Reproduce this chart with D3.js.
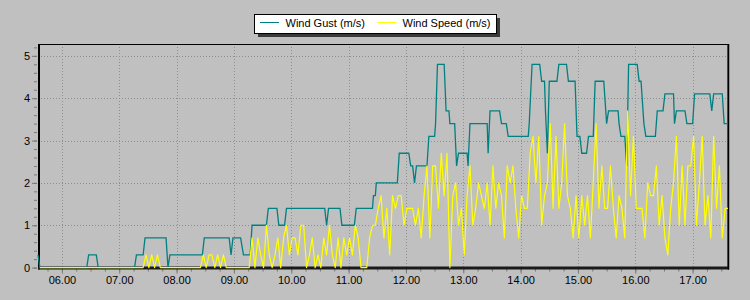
<!DOCTYPE html>
<html>
<head>
<meta charset="utf-8">
<script src="https://cdn.jsdelivr.net/npm/d3@7"></script>
<style>
body { margin: 0; background: #c0c0c0; }
text { font-family: "Liberation Sans", Arial, sans-serif; font-size: 11px; }
</style>
</head>
<body>
<div id="chart"></div>
<script>
// wind gust: corner points of the stepped line
var gustTimes = [
  "05:35","05:37","06:26","06:28","06:36","06:38","07:16","07:18","07:25","07:27",
  "07:49","07:51","07:53","08:27","08:29","08:55","08:57","08:59","09:07","09:10",
  "09:17","09:19","09:34","09:36","09:45","09:47","09:53","09:55","10:35","10:37",
  "10:39","10:51","10:53","11:06","11:08","11:25","11:26","11:28","11:29","11:51",
  "11:53","12:03","12:05","12:07","12:09","12:11","12:22","12:24","12:30","12:31",
  "12:33","12:40","12:42","12:45","12:46","12:51","12:53","12:55","13:04","13:05",
  "13:07","13:25","13:26","13:28","13:38","13:40","13:45","13:47","14:08","14:09",
  "14:12","14:20","14:22","14:25","14:26","14:28","14:30","14:38","14:40","14:48",
  "14:50","14:57","14:59","15:02","15:04","15:09","15:11","15:16","15:18","15:27",
  "15:30","15:32","15:42","15:43","15:45","15:49","15:51","15:53","16:02","16:04",
  "16:06","16:09","16:11","16:21","16:23","16:29","16:31","16:40","16:41","16:43",
  "16:52","16:54","17:00","17:02","17:18","17:20","17:22","17:31","17:33","17:37"
];
var gustValues = [
  0.3,0,0,0.3,0.3,0,0,0.3,0.3,0.7,
  0.7,0,0.3,0.3,0.7,0.7,0.3,0.7,0.7,0.3,
  0.3,1.0,1.0,1.4,1.4,1.0,1.0,1.4,1.4,1.0,
  1.4,1.4,1.0,1.0,1.4,1.4,1.7,1.7,2.0,2.0,
  2.7,2.7,2.4,2.4,2.0,2.4,2.4,3.1,3.1,3.4,
  4.8,4.8,3.7,3.7,3.4,3.4,2.4,2.7,2.7,2.4,
  3.4,3.4,2.7,3.7,3.7,3.4,3.4,3.1,3.1,3.4,
  4.8,4.8,4.4,4.4,3.7,2.7,4.4,4.4,4.8,4.8,
  4.4,4.4,3.1,3.1,2.7,2.7,3.1,3.1,4.4,4.4,
  3.4,3.7,3.7,3.4,3.1,3.1,2.4,4.8,4.8,4.4,
  4.4,3.4,3.1,3.1,3.7,3.7,4.1,4.1,3.4,3.7,
  3.7,3.4,3.4,4.1,4.1,3.7,4.1,4.1,3.4,3.4
];

// wind speed: one reading every 3 minutes from 05:37
var speedStart = "05:37";
var speedStep = 3;
var speedValues = [
  0,0,0,0,0,0,0,0,0,0,
  0,0,0,0,0,0,0,0,0,0,
  0,0,0,0,0,0,0,0,0,0,
  0,0,0,0,0,0,0,0.3,0,0.3,
  0,0.3,0,0,0,0,0,0,0,0,
  0,0,0,0,0,0,0,0.3,0,0.3,
  0.3,0,0.3,0,0.3,0,0,0,0,0,
  0,0,0,0,0.7,0,0.7,0.3,0,1.0,
  0.3,0,0.3,0.7,0,0.7,1.0,0.3,0.7,0.7,
  0.3,1.0,1.0,0,0.3,0.7,0,0.3,0,0.7,
  0.3,1.0,0.3,0,0.7,0,0.7,0.3,0.7,0.3,
  1.0,0.7,0,0,0,0.7,1.0,1.0,1.4,1.7,
  0.7,1.4,0.3,1.7,1.4,1.7,1.7,1.0,1.4,1.4,
  1.4,1.0,1.4,0.7,1.7,2.4,0.7,2.4,2.4,1.4,
  2.7,1.7,2.7,0,1.7,2.0,1.0,1.4,0.3,1.7,
  2.4,1.0,1.4,2.0,1.7,1.4,2.0,1.0,2.4,1.4,
  2.0,1.7,0.7,2.4,2.0,2.4,1.4,0.7,1.7,1.4,
  1.4,2.7,3.1,2.0,3.1,1.0,1.7,2.0,3.4,1.4,
  3.1,1.4,2.0,3.4,1.7,1.4,0.7,1.7,0.7,1.7,
  1.0,1.7,0.7,2.0,3.4,1.4,2.4,1.4,1.4,2.4,
  1.4,0.7,1.7,1.4,0.7,3.7,1.7,3.1,1.4,1.4,
  1.4,0.7,2.0,1.7,1.7,2.4,1.0,1.7,0.7,0.3,
  1.4,2.0,3.1,1.0,2.4,1.0,2.4,2.4,3.1,1.0,
  2.0,3.1,1.0,1.7,0.7,3.1,1.4,2.4,0.7,1.4,1.4
];

var timeRange = ["05:35", "17:37"];
var yMax = 5.28;
var yTicks = [0, 1, 2, 3, 4, 5];
var seriesNames = ["Wind Gust (m/s)", "Wind Speed (m/s)"];
var seriesColors = ["#008080", "#ffff00"];

var parseTime = d3.timeParse("%H:%M");

var margin = {top: 44, right: 22, bottom: 32.4, left: 38},
    width = 750 - margin.left - margin.right,
    height = 300 - margin.top - margin.bottom;

var x = d3.scaleTime()
    .domain(timeRange.map(parseTime))
    .range([0, width]);
var y = d3.scaleLinear()
    .domain([0, yMax])
    .range([height, 0]);

var gust = gustTimes.map(function(t, i) {
  return {t: parseTime(t), v: gustValues[i]};
});
var t0 = parseTime(speedStart);
var speed = speedValues.map(function(v, i) {
  return {t: d3.timeMinute.offset(t0, i * speedStep), v: v};
});

var svg = d3.select("#chart").append("svg")
    .attr("width", 750)
    .attr("height", 300)
    .style("display", "block");

svg.append("rect")
    .attr("width", 750).attr("height", 300)
    .attr("fill", "#c0c0c0");

var g = svg.append("g")
    .attr("transform", "translate(" + margin.left + "," + margin.top + ")");

// grid
var hours = x.ticks(d3.timeHour.every(1));
g.append("g").selectAll("line")
    .data(hours)
  .enter().append("line")
    .attr("x1", function(d) { return Math.round(x(d)) + 0.5; })
    .attr("x2", function(d) { return Math.round(x(d)) + 0.5; })
    .attr("y1", 0).attr("y2", height)
    .attr("stroke", "#8e8e8e")
    .attr("stroke-dasharray", "1,2");
g.append("g").selectAll("line")
    .data(yTicks.slice(1))
  .enter().append("line")
    .attr("x1", 0).attr("x2", width)
    .attr("y1", function(d) { return Math.round(y(d)) + 0.5; })
    .attr("y2", function(d) { return Math.round(y(d)) + 0.5; })
    .attr("stroke", "#8e8e8e")
    .attr("stroke-dasharray", "1,2");

// axes
function styleAxis(sel) {
  sel.select(".domain").remove();
  sel.selectAll(".tick line").attr("stroke", "#7a7a7a");
  sel.selectAll(".tick text").attr("fill", "#000");
}

g.append("g")
    .attr("transform", "translate(0," + (height + 1) + ")")
    .call(d3.axisBottom(x).ticks(d3.timeMinute.every(15)).tickFormat("").tickSize(3))
    .call(styleAxis);
g.append("g")
    .attr("transform", "translate(0," + (height + 1) + ")")
    .call(d3.axisBottom(x).ticks(d3.timeHour.every(1))
      .tickFormat(d3.timeFormat("%H.%M")).tickSize(5).tickPadding(3))
    .call(styleAxis);

g.append("g")
    .attr("transform", "translate(-1,0)")
    .call(d3.axisLeft(y).tickValues(d3.range(0, 5.21, 0.2)).tickFormat("").tickSize(3))
    .call(styleAxis);
g.append("g")
    .attr("transform", "translate(-1,0)")
    .call(d3.axisLeft(y).tickValues(yTicks).tickFormat(d3.format("d")).tickSize(5).tickPadding(2))
    .call(styleAxis);

// frame
g.append("rect")
    .attr("x", 0.5).attr("y", 0.5)
    .attr("width", width - 0.5).attr("height", height)
    .attr("fill", "none")
    .attr("stroke", "#000");
g.append("line")
    .attr("x1", 1).attr("x2", 1)
    .attr("y1", 0).attr("y2", height + 2)
    .attr("stroke", "#000").attr("stroke-width", 2);
g.append("line")
    .attr("x1", 0).attr("x2", width + 1)
    .attr("y1", height + 0.5).attr("y2", height + 0.5)
    .attr("stroke", "#1a1a1a").attr("stroke-width", 3);
g.append("line")
    .attr("x1", width + 0.5).attr("x2", width + 0.5)
    .attr("y1", 0).attr("y2", height + 2)
    .attr("stroke", "#000").attr("stroke-width", 1.5);

// lines
var line = d3.line()
    .x(function(d) { return x(d.t); })
    .y(function(d) { return y(d.v); });

g.append("path")
    .datum(gust)
    .attr("fill", "none")
    .attr("stroke", seriesColors[0])
    .attr("stroke-width", 1.3)
    .attr("d", line);

g.append("path")
    .datum(speed)
    .attr("fill", "none")
    .attr("stroke", seriesColors[1])
    .attr("stroke-width", 1.2)
    .attr("stroke-linejoin", "round")
    .attr("d", line);

// legend
var legend = svg.append("g")
    .attr("transform", "translate(254,14)");
legend.append("rect")
    .attr("x", 4).attr("y", 4)
    .attr("width", 242).attr("height", 19)
    .attr("fill", "#3a3a3a");
legend.append("rect")
    .attr("x", 0.5).attr("y", 0.5)
    .attr("width", 242).attr("height", 19)
    .attr("fill", "#fff")
    .attr("stroke", "#000");

var legendX = [[6, 31.5], [123.5, 148.5]];
seriesNames.forEach(function(name, i) {
  legend.append("line")
    .attr("x1", legendX[i][0]).attr("x2", legendX[i][0] + 19)
    .attr("y1", 8.5).attr("y2", 8.5)
    .attr("stroke", seriesColors[i]);
  legend.append("text")
    .attr("x", legendX[i][1]).attr("y", 12.8)
    .attr("fill", "#000")
    .text(name);
});
</script>
</body>
</html>
